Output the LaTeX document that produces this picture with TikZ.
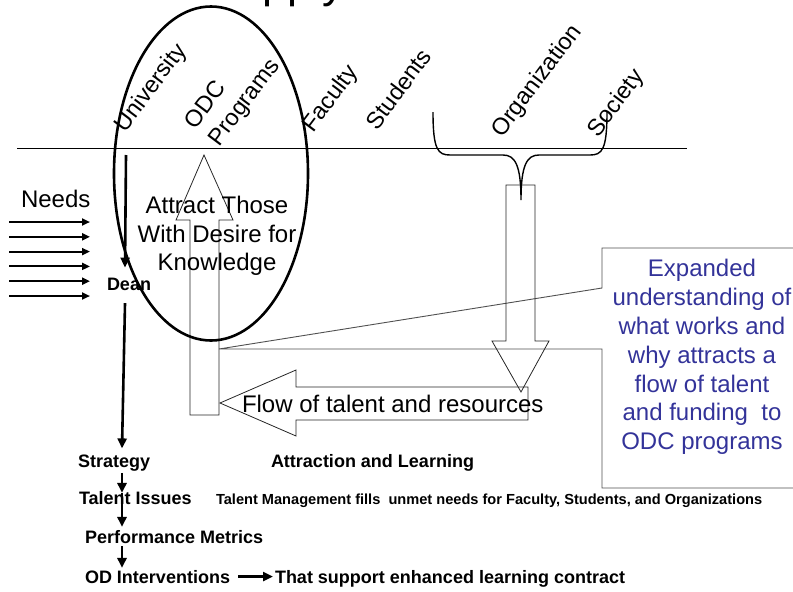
\documentclass[tikz,border=0pt]{standalone}
\usepackage{fontspec}
\setmainfont{Liberation Sans}
\usetikzlibrary{arrows.meta}
\usetikzlibrary{calc}
\definecolor{calloutblue}{RGB}{51,51,153}
\definecolor{edgegray}{RGB}{80,80,80}
\begin{document}
\begin{tikzpicture}[x=1pt,y=-1pt,
  every node/.style={inner sep=0pt,outer sep=0pt},
  party/.style={anchor=base west,rotate=53,font=\fontsize{23.5}{28.5}\selectfont},
  stage/.style={anchor=base west,font=\fontsize{18}{21}\selectfont\bfseries},
  big/.style={font=\fontsize{24}{28.5}\selectfont},
  bar/.style={line width=2.6pt,-{Triangle[length=10pt,width=9pt]}},
  need/.style={line width=2pt,-{Triangle[length=8pt,width=7pt]}},
  block/.style={draw=black!85,line width=0.8pt,line join=miter}]
\useasboundingbox (0,0) rectangle (793,592);
\clip (0,0) rectangle (793,592);
% callout round the blue text, its right side runs off the page
\draw[edgegray,line width=0.9pt] (800,248) -- (602,248) -- (602,288) -- (219,349) -- (602,349)
  -- (602,488) -- (800,488);
% hollow block arrows
\draw[block] (190,415) -- (190,220) -- (176,220) -- (204,155) -- (233,220) -- (219,220) -- (219,415) -- cycle;
\draw[block] (506,185) -- (506,341) -- (492,341) -- (521,392) -- (549,341) -- (535,341) -- (535,185) -- cycle;
\draw[block] (528,387) -- (296,387) -- (296,370) -- (220,403) -- (296,436) -- (296,420) -- (528,420) -- cycle;
\draw[line width=0.9pt] (17,148) -- (687,148);
\draw[line width=2.6pt] (211,173.5) ellipse [x radius=97, y radius=167];
% brace under organization and society
\draw[line width=1.4pt] (433,112) .. controls (433,150) and (438,155) .. (450,155) -- (503,155)
  .. controls (515,155) and (521,165) .. (521,200) .. controls (521,165) and (527,155) .. (539,155)
  -- (590,155) .. controls (602,155) and (607,150) .. (607,112);

\node[anchor=base west,font=\fontsize{45}{50}\selectfont] (title) at (262,-2.5) {pply};
\node[party] (univ) at (125,133) {University};
\node[party] (odc) at (195,130) {ODC};
\node[party] (progs) at (219,147) {Programs};
\node[party] (faculty) at (313,133) {Faculty};
\node[party] (students) at (377,131) {Students};
\node[party] (org) at (502,138) {Organization};
\node[party] (society) at (598,138) {Society};

\node[big,anchor=base west] (needs) at (21,207) {Needs};
\node[big,align=center] (attract) at (217,236) {Attract Those\\With Desire for\\Knowledge};
\node[big,anchor=base west] (flowtxt) at (242,412) {Flow of talent and resources};
\node[big,align=center,text=calloutblue,font=\fontsize{24}{28.8}\selectfont] (expanded) at (702,357)
  {Expanded\\understanding of\\what works and\\why attracts a\\flow of talent\\and funding~ to\\ODC programs};

\node[stage] (dean) at (107,290) {Dean};
\node[stage] (strategy) at (78,467) {Strategy};
\node[stage] (attraction) at (271,467) {Attraction and Learning};
\node[stage] (talent) at (79,504) {Talent Issues};
\node[anchor=base west,font=\fontsize{14.6}{17}\selectfont\bfseries] (tm) at (216,504)
  {Talent Management fills~ unmet needs for Faculty, Students, and Organizations};
\node[stage] (metrics) at (85,543) {Performance Metrics};
\node[stage] (odint) at (85,583) {OD Interventions};
\node[stage] (support) at (275,583) {That support enhanced learning contract};

\coordinate (univfoot) at (126,155);
\coordinate (spine) at (122,0);
\draw[bar] (univfoot) -- ($(dean.north)+(-4,-10)$);
\draw[bar] ($(dean.south)+(-4,13)$) -- ($(strategy.north -| spine)+(0,-6)$);
\draw[bar] ($(strategy.south -| spine)+(0,2)$) -- ($(talent.north -| spine)+(0,2)$);
\draw[bar] ($(talent.north -| spine)+(0,2)$) -- ($(metrics.north -| spine)+(0,-3)$);
\draw[bar] ($(metrics.south -| spine)+(0,3)$) -- ($(odint.north -| spine)+(0,-2)$);
\draw[bar] ($(odint.east)+(8,0)$) -- ($(odint.east -| support.west)+(-2,0)$);
\foreach \i in {0,...,5}
  \draw[need] (9,222+14.8*\i) -- (90,222+14.8*\i);
\end{tikzpicture}
\end{document}
